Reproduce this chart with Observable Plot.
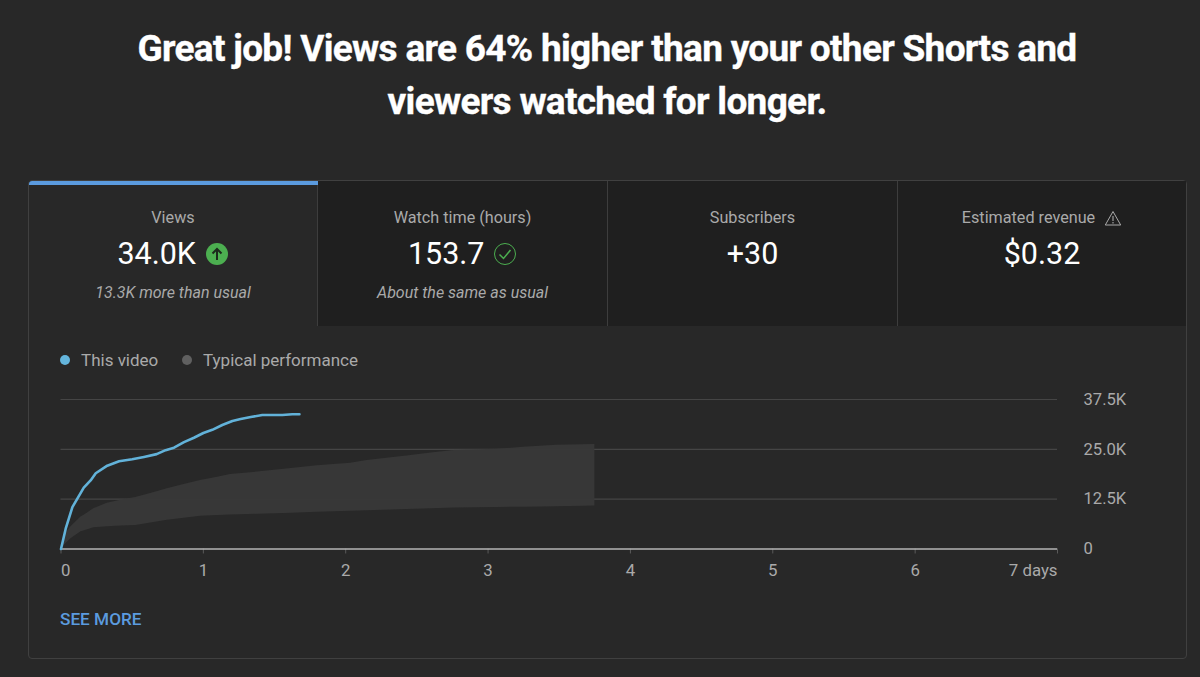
<!DOCTYPE html>
<html><head><meta charset="utf-8">
<script src="https://cdn.jsdelivr.net/npm/d3@7"></script>
<script src="https://cdn.jsdelivr.net/npm/@observablehq/plot@0.6"></script>
<style>
html,body{margin:0;padding:0;background:#282828;width:1200px;height:677px;overflow:hidden;font-family:Roboto,sans-serif;}
#page{position:relative;width:1200px;height:677px;}
h1{position:absolute;left:7px;top:22px;width:1200px;margin:0;text-align:center;color:#fff;font-weight:700;font-size:37px;line-height:53px;letter-spacing:-.7px;-webkit-text-stroke:.35px #fff;}
#card{position:absolute;left:28px;top:180px;width:1159px;height:479px;border:1px solid #404040;border-radius:4px;box-sizing:border-box;}
.tab{position:absolute;top:181px;height:145px;width:290px;background:#1f1f1f;box-sizing:border-box;border-left:1px solid #3d3d3d;text-align:center;}
.tab.on{background:#282828;border-left:0;}
.bar{position:absolute;left:29px;top:181px;width:289px;height:4px;background:#5b9bdf;border-radius:3px 0 0 0;}
.lab{position:absolute;left:0;right:0;top:28px;color:#aaa;font-size:16.2px;line-height:18px;}
.val{position:absolute;left:0;right:0;top:55px;color:#fff;font-size:30.5px;line-height:36px;}
.sub{position:absolute;left:0;right:0;top:103px;color:#aaa;font-size:16px;line-height:18px;font-style:italic;}
.val svg,.lab svg{vertical-align:middle;}
.leg{position:absolute;top:350px;color:#aaa;font-size:17px;line-height:20px;}
.dot{position:absolute;top:355px;width:10px;height:10px;border-radius:50%;}
#see{position:absolute;left:60px;top:609px;color:#5b9bdf;font-size:17.2px;line-height:20px;font-weight:500;}
#chart{position:absolute;left:0;top:380px;}
</style></head><body>
<div id="page">
<h1>Great job! Views are 64% higher than your other Shorts and<br>viewers watched for longer.</h1>
<div id="card"></div>
<div class="tab on" style="left:29px;width:288px"><div class="lab">Views</div>
 <div class="val">34.0K <svg width="24" height="24" viewBox="0 0 24 24" style="margin-top:-3px;margin-left:1px"><circle cx="12" cy="12" r="11" fill="#4caf50"/><path d="M12 18V7M7.5 11.5 12 7l4.5 4.5" fill="none" stroke="#1c2a1c" stroke-width="2"/></svg></div>
 <div class="sub">13.3K more than usual</div></div>
<div class="tab" style="left:317px"><div class="lab">Watch time (hours)</div>
 <div class="val">153.7 <svg width="24" height="24" viewBox="0 0 24 24" style="margin-top:-3px;margin-left:1px"><circle cx="12" cy="12" r="10.5" fill="none" stroke="#4caf50" stroke-width="1"/><path d="M6.5 12.5 10.5 16.5 17.5 8" fill="none" stroke="#4caf50" stroke-width="1.5"/></svg></div>
 <div class="sub">About the same as usual</div></div>
<div class="tab" style="left:607px"><div class="lab">Subscribers</div><div class="val">+30</div></div>
<div class="tab" style="left:897px;width:289px"><div class="lab">Estimated revenue <svg width="18" height="16" viewBox="0 0 18 16" style="margin-left:5px;margin-top:-2px"><path d="M9 1.5 16.7 15H1.3Z" fill="none" stroke="#aaa" stroke-width="1"/><path d="M9 6v5M9 12v1.6" stroke="#aaa" stroke-width="1.1"/></svg></div><div class="val">$0.32</div></div>
<div class="bar"></div>
<div class="dot" style="left:60px;background:#64b5dc"></div><div class="leg" style="left:81px">This video</div>
<div class="dot" style="left:182px;background:#606060"></div><div class="leg" style="left:203px">Typical performance</div>
<div id="chart"></div>
<div id="see">SEE MORE</div>
</div>
<script>
const lineDays  = [0,.033,.08,.16,.208,.244,.325,.408,.5,.583,.672,.735,.794,.864,.934,1,1.063,1.133,1.204,1.262,1.333,1.414,1.555,1.625,1.675];
const lineViews = [0,5100,10500,15400,17200,19000,20900,22000,22500,23100,23800,24800,25400,26800,27900,29100,29900,31100,32100,32600,33100,33600,33600,33800,33800];
const bandDays = [0,.033,.07,.09,.14,.16,.23,.325,.42,.525,.63,.747,.864,.98,1.1,1.19,1.38,1.567,1.8,2.035,2.15,2.43,2.6,2.76,3.06,3.25,3.48,3.75];
const bandHigh = [0,3800,5600,6300,8000,8400,10100,11500,12200,12900,13900,15100,16200,17200,18000,18700,19300,20000,20900,21500,22200,23300,24100,24700,25000,25500,26000,26200];
const bandLow  = [0,1300,2600,3100,4300,4500,5300,5600,5800,5900,6500,7200,7700,8200,8400,8500,8700,8900,9200,9500,9600,9900,10100,10300,10400,10500,10600,10800];
const yTicks = [0,12500,25000,37500];
const yLabels = ["0","12.5K","25.0K","37.5K"];
const xTicks = [0,1,2,3,4,5,6,7];
const xLabels = ["0","1","2","3","4","5","6","7 days"];

const lineData = lineDays.map((d,i)=>({d,v:lineViews[i]}));
const bandData = bandDays.map((d,i)=>({d,lo:bandLow[i],hi:bandHigh[i]}));
const xLab = xTicks.map((d,i)=>({d,t:xLabels[i],a:i===0?"start":i===7?"end":"middle"}));
const yLab = yTicks.map((v,i)=>({v,t:yLabels[i]}));

const plot = Plot.plot({
  width:1200,height:210,
  marginLeft:60.5,marginRight:143,marginTop:19,marginBottom:41.5,
  style:{background:"transparent",fontFamily:"Roboto,sans-serif"},
  x:{domain:[0,7],axis:null},
  y:{domain:[0,37500],axis:null},
  marks:[
    Plot.ruleY(yTicks.slice(1),{stroke:"#454545",strokeWidth:1.2}),
    Plot.areaY(bandData,{x:"d",y1:"lo",y2:"hi",fill:"#383838",fillOpacity:.95,curve:"linear"}),
    Plot.ruleX(xTicks,{y1:0,y2:-1250,stroke:"#5a5a5a"}),
    Plot.ruleY([0],{stroke:"#b5b5b5",strokeWidth:1.5}),
    Plot.line(lineData,{x:"d",y:"v",stroke:"#62b2d9",strokeWidth:2.6,curve:"linear"}),
    ...["start","middle","end"].map(a=>Plot.text(xLab.filter(o=>o.a===a),{x:"d",y:0,text:"t",textAnchor:a,dy:22,fill:"#aaa",fontSize:16.8})),
    Plot.text(yLab,{x:7,y:"v",text:"t",textAnchor:"start",dx:26,fill:"#aaa",fontSize:16.6})
  ]
});
document.getElementById("chart").append(plot);
</script>
</body></html>
